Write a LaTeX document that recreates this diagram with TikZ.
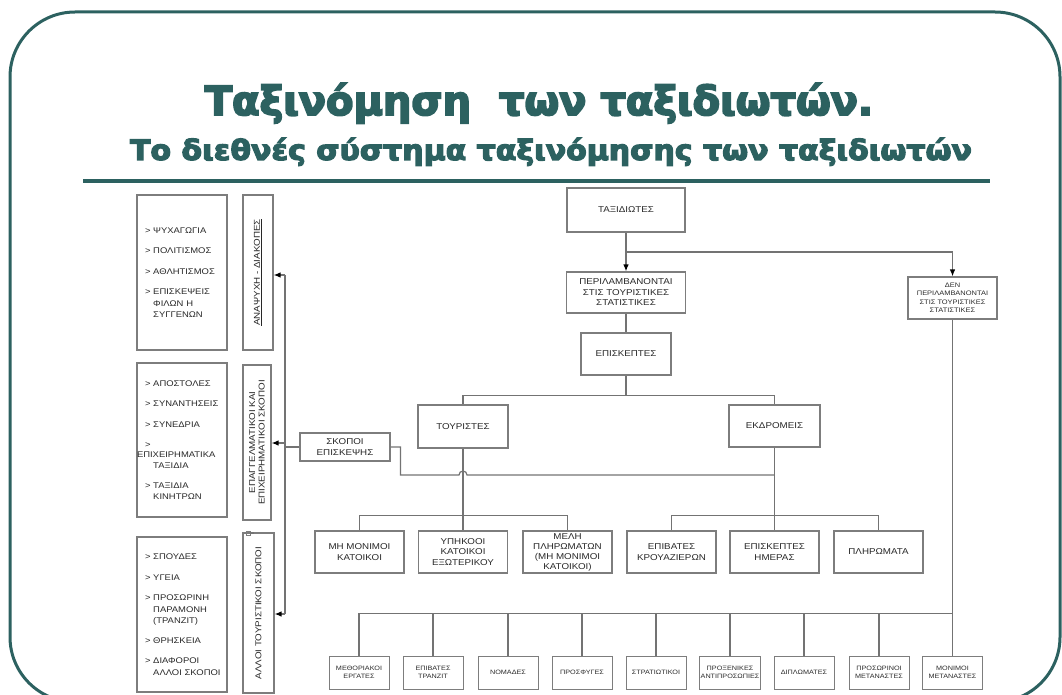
\documentclass[tikz,border=0pt]{standalone}
\usepackage{fontspec}
\setmainfont{Liberation Sans}[FakeStretch=1.15]
\newfontfamily\headfont{DejaVu Sans}[UprightFont={* Bold}]
\newcommand{\heavytext}[2]{\special{pdf:literal direct 2 Tr #1 w}#2\special{pdf:literal direct 0 Tr}}
\usetikzlibrary{arrows.meta}

\definecolor{slide}{RGB}{44,97,96}
\definecolor{boxline}{RGB}{125,125,125}
\definecolor{wiregray}{RGB}{115,115,115}
\definecolor{ink}{RGB}{40,40,40}

\begin{document}
\begin{tikzpicture}[x=1pt,y=-1pt,>={Latex[black,length=7pt,width=5.5pt]},
  box/.style={draw=boxline,line width=1.1pt,inner sep=1pt,align=center,text=ink,font=\fontsize{8.5}{10.5}\selectfont},
  kid/.style={box,minimum width=89,minimum height=42},
  leaf/.style={box,line width=0.9pt,minimum width=60,minimum height=33,font=\fontsize{6.3}{7.5}\selectfont},
  list/.style={box,minimum height=155,text width=84,inner xsep=3pt,align=left,font=\fontsize{8.2}{11.5}\selectfont},
  vbox/.style={box,rotate=90,minimum width=155,minimum height=30,font=\fontsize{8.5}{9.5}\selectfont},
  wire/.style={draw=wiregray,line width=1.2pt}]
\useasboundingbox (0,0) rectangle (1062,695);
% slide frame
\begin{scope}
\clip (0,0) rectangle (1062,695);
\draw[slide,line width=3pt,rounded corners=65pt] (10,12) rectangle (1060,702);
\end{scope}
\node[font=\headfont\fontsize{40}{44}\selectfont,text=slide,anchor=base] (title) at (539,115) {\heavytext{1.8}{Ταξινόμηση\ \ των ταξιδιωτών.}};
\node[font=\headfont\fontsize{28}{30}\selectfont,text=slide,anchor=base,xscale=1.07] (subtitle) at (551,160) {\heavytext{1.2}{Το διεθνές σύστημα ταξινόμησης των ταξιδιωτών}};
\draw[slide,line width=4pt] (83,181) -- (990,181);

% main tree
\node[box,minimum width=118,minimum height=44,line width=2pt] (tax) at (626,210) {ΤΑΞΙΔΙΩΤΕΣ};
\node[box,minimum width=119,minimum height=41] (per) at (626,292.5) {ΠΕΡΙΛΑΜΒΑΝΟΝΤΑΙ\\ΣΤΙΣ ΤΟΥΡΙΣΤΙΚΕΣ\\ΣΤΑΤΙΣΤΙΚΕΣ};
\node[box,minimum width=89,minimum height=42,font=\fontsize{6.5}{8.5}\selectfont] (den) at (952.5,298) {ΔΕΝ\\ΠΕΡΙΛΑΜΒΑΝΟΝΤΑΙ\\ΣΤΙΣ ΤΟΥΡΙΣΤΙΚΕΣ\\ΣΤΑΤΙΣΤΙΚΕΣ};
\node[box,minimum width=90,minimum height=42] (epi) at (626,354) {ΕΠΙΣΚΕΠΤΕΣ};
\node[box,minimum width=90,minimum height=43] (tour) at (463,426.5) {ΤΟΥΡΙΣΤΕΣ};
\node[box,minimum width=91,minimum height=42] (ekd) at (774.5,426) {ΕΚΔΡΟΜΕΙΣ};
\node[box,minimum width=90,minimum height=28] (skop) at (345,447) {ΣΚΟΠΟΙ\\ΕΠΙΣΚΕΨΗΣ};

\node[kid] (mon) at (359.5,552) {ΜΗ ΜΟΝΙΜΟΙ\\ΚΑΤΟΙΚΟΙ};
\node[kid] (ypi) at (463,552) {ΥΠΗΚΟΟΙ\\ΚΑΤΟΙΚΟΙ\\ΕΞΩΤΕΡΙΚΟΥ};
\node[kid,font=\fontsize{8.5}{10}\selectfont] (mel) at (567.5,552) {ΜΕΛΗ\\ΠΛΗΡΩΜΑΤΩΝ\\(ΜΗ ΜΟΝΙΜΟΙ\\ΚΑΤΟΙΚΟΙ)};
\node[kid] (kro) at (671.5,552) {ΕΠΙΒΑΤΕΣ\\ΚΡΟΥΑΖΙΕΡΩΝ};
\node[kid] (hme) at (774.5,552) {ΕΠΙΣΚΕΠΤΕΣ\\ΗΜΕΡΑΣ};
\node[kid] (plh) at (878.5,552) {ΠΛΗΡΩΜΑΤΑ};

% not counted in tourism statistics
\node[leaf] (erg) at (359,672.5) {ΜΕΘΟΡΙΑΚΟΙ\\ΕΡΓΑΤΕΣ};
\node[leaf] (tra) at (433,672.5) {ΕΠΙΒΑΤΕΣ\\ΤΡΑΝΖΙΤ};
\node[leaf] (nom) at (508,672.5) {ΝΟΜΑΔΕΣ};
\node[leaf] (pro) at (582,672.5) {ΠΡΟΣΦΥΓΕΣ};
\node[leaf] (str) at (656,672.5) {ΣΤΡΑΤΙΩΤΙΚΟΙ};
\node[leaf] (prx) at (730,672.5) {ΠΡΟΞΕΝΙΚΕΣ\\ΑΝΤΙΠΡΟΣΩΠΙΕΣ};
\node[leaf] (dip) at (804,672.5) {ΔΙΠΛΩΜΑΤΕΣ};
\node[leaf] (pme) at (879,672.5) {ΠΡΟΣΩΡΙΝΟΙ\\ΜΕΤΑΝΑΣΤΕΣ};
\node[leaf] (mme) at (952.5,672.5) {ΜΟΝΙΜΟΙ\\ΜΕΤΑΝΑΣΤΕΣ};

% purposes of visit
\node[list] (psy) at (182,272.5) {\hspace*{5pt}> ΨΥΧΑΓΩΓΙΑ\\[9pt]
\hspace*{5pt}> ΠΟΛΙΤΙΣΜΟΣ\\[9pt]
\hspace*{5pt}> ΑΘΛΗΤΙΣΜΟΣ\\[9pt]
\hspace*{5pt}> ΕΠΙΣΚΕΨΕΙΣ\\
\hspace*{5pt}\phantom{> }ΦΙΛΩΝ Η\\
\hspace*{5pt}\phantom{> }ΣΥΓΓΕΝΩΝ};
\node[list,minimum height=154] (erga) at (182,440) {\hspace*{5pt}> ΑΠΟΣΤΟΛΕΣ\\[9pt]
\hspace*{5pt}> ΣΥΝΑΝΤΗΣΕΙΣ\\[9pt]
\hspace*{5pt}> ΣΥΝΕΔΡΙΑ\\[9pt]
\hspace*{5pt}>\\[-2pt]
\hspace*{-3pt}ΕΠΙΧΕΙΡΗΜΑΤΙΚΑ\\
\hspace*{5pt}\phantom{> }ΤΑΞΙΔΙΑ\\[8pt]
\hspace*{5pt}> ΤΑΞΙΔΙΑ\\
\hspace*{5pt}\phantom{> }ΚΙΝΗΤΡΩΝ};
\node[list] (loipa) at (182,614.5) {\hspace*{5pt}> ΣΠΟΥΔΕΣ\\[9pt]
\hspace*{5pt}> ΥΓΕΙΑ\\[9pt]
\hspace*{5pt}> ΠΡΟΣΩΡΙΝΗ\\
\hspace*{5pt}\phantom{> }ΠΑΡΑΜΟΝΗ\\
\hspace*{5pt}\phantom{> }(ΤΡΑΝΖΙΤ)\\[8pt]
\hspace*{5pt}> ΘΡΗΣΚΕΙΑ\\[9pt]
\hspace*{5pt}> ΔΙΑΦΟΡΟΙ\\
\hspace*{5pt}\phantom{> }ΑΛΛΟΙ ΣΚΟΠΟΙ};
\node[vbox] (ana) at (258,272.5) {\underline{ΑΝΑΨΥΧΗ - ΔΙΑΚΟΠΕΣ}};
\node[vbox,minimum height=28] (epa) at (257,442.5) {ΕΠΑΓΓΕΛΜΑΤΙΚΟΙ ΚΑΙ\\ΕΠΙΧΕΙΡΗΜΑΤΙΚΟΙ ΣΚΟΠΟΙ};
\node[vbox,minimum width=160,minimum height=31] (all) at (258.5,613) {ΑΛΛΟΙ ΤΟΥΡΙΣΤΙΚΟΙ ΣΚΟΠΟΙ};
\node[draw=boxline,line width=0.8pt,minimum size=4pt,inner sep=0pt] (hnd) at (248,533) {};

% connectors
\coordinate (split) at (626,252);
\draw[wire,->] (tax) -- (per);
\draw[wire,->] (split) -| (den.north);
\draw[wire] (per) -- (epi);
\draw[wire] (epi.south) -- ++(0,20) -| (tour.north);
\draw[wire] (epi.south) ++(0,20) -| (ekd.north);
\draw[wire] (tour) -- (ypi);
\draw[wire] (mon.north) -- ++(0,-15) -| (mel.north);
\draw[wire] (ekd) -- (hme);
\draw[wire] (kro.north) -- ++(0,-15) -| (plh.north);
\coordinate (join) at (774.5,475);
\draw[wire] (skop.east) -- ++(10,0) |- (459,475) arc[start angle=180,end angle=360,radius=4] -- (join);
\draw[wire] (den) -- (mme);
\draw[wire] (erg.north) -- ++(0,-42) -| (mme.north);
\foreach \n in {tra,nom,pro,str,prx,dip,pme}
  \draw[wire] (\n.north) -- ++(0,-42);
\coordinate (bustop) at (285,275);
\coordinate (busmid) at (285,443);
\coordinate (busbot) at (285,614);
\draw[wire] (bustop) -- (busbot);
\draw[wire,->] (bustop) -- (bustop -| ana.south);
\draw[wire,->] (busmid) -- (busmid -| epa.south);
\draw[wire,->] (busbot) -- (busbot -| all.south);
\draw[wire] (skop.west) -- (skop.west -| busmid);
\draw[wire] (hnd.east) -- ++(4,0);
\end{tikzpicture}
\end{document}
